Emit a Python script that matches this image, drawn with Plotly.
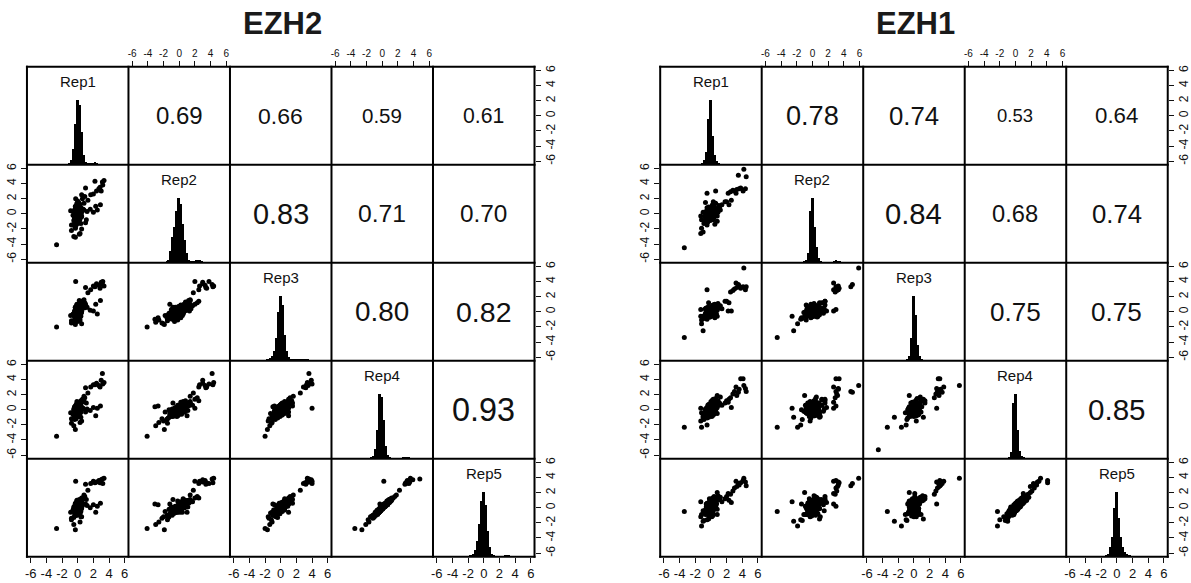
import plotly.graph_objects as go

# ---------------------------------------------------------------- data
rep_names = ["Rep1", "Rep2", "Rep3", "Rep4", "Rep5"]
tick_vals = [-6, -4, -2, 0, 2, 4, 6]
tick_text = ["-6", "-4", "-2", "0", "2", "4", "6"]

hist_bins = [-3.0, -2.75, -2.5, -2.25, -2.0, -1.75, -1.5, -1.25, -1.0, -0.75,
             -0.5, -0.25, 0.0, 0.25, 0.5, 0.75, 1.0, 1.25, 1.5, 1.75, 2.0,
             2.25, 2.5, 2.75, 3.0, 3.25, 3.5, 3.75, 4.0, 4.25, 4.5]

# ---- EZH2 : per-gene log ratios for each replicate
ezh2_rep1 = [0.0, 0.1, -0.1, 0.2, -0.2, 0.0, 0.1, -0.1, 0.3, -0.3,
             0.0, 0.2, -0.2, 0.1, -0.1, 0.0, 0.3, -0.2, 0.1, 0.0,
             -0.1, 0.2, 0.0, -0.3, 0.1, 0.2, -0.1, 0.0, 0.1, -0.2,
             0.2, -0.3, 0.0, 0.4, -0.1, 0.1, -0.4, 0.3, -0.2, 0.0,
             0.5, -0.5, 0.1, -0.1, 0.2, 0.0, -0.3, 0.3, -0.2, 0.1,
             0.4, -0.4, 0.0, 0.2, -0.1, 0.3, -0.2, 0.1, 0.0, -0.3,
             -0.4, 0.0, -0.5, 0.2, -0.3, -0.1, -0.6, 0.1, -0.2, 0.3,
             -0.4, 0.0, -0.2, 0.2, -0.5, 0.1, -0.3, 0.4, -0.1, 0.0,
             -0.4, 0.3, -0.2, 0.1, -0.3, 0.5, 0.0, -0.1, 0.2, -0.3,
             0.4, 0.0, -0.2, 0.3, 0.1, -0.4, 0.6, 0.0, 0.2, -0.1,
             0.4, -0.3, 0.7, 0.1, 0.5, -0.2, 0.3, 0.8, 0.0, 0.4,
             0.6, 0.2, 0.9, -0.8, 0.3, -0.5, 0.5, 1.1, -0.9, -0.8,
             1.0, 1.66, 2.0, 2.4, 2.7, 3.0, 3.15, 3.36, 2.85, 3.2, 2.2,
             1.2, 1.6, 2.0, 2.5, 2.3, 1.0, 2.9, 0.8, 1.3, 0.5,
             -2.7, -0.3, -0.26, -0.3, 0.2]
ezh2_rep2 = [0.1, -0.4, 0.5, -0.2, 0.3, -0.6, 0.0, 0.6, -0.3, 0.2,
             -0.1, 0.4, -0.5, -0.8, 0.7, 0.2, -0.2, 0.0, -0.7, 0.4,
             0.6, -0.3, -1.0, 0.1, 0.3, -0.5, 0.9, -0.1, -0.4, 0.5,
             -0.9, 0.4, -1.2, 0.8, -0.2, 1.0, -0.6, 0.1, -1.5, 0.6,
             -0.3, 0.2, -0.8, 1.2, -0.4, 0.9, -1.1, 0.3, -0.1, 0.7,
             -1.3, 0.5, 0.0, -0.7, 1.4, -0.5, 0.2, -0.9, 0.6, -0.2,
             -1.6, -0.6, -1.4, -0.3, -1.8, -0.9, -0.2, -1.1, 0.2, -0.7,
             -0.5, -1.3, 0.1, -0.4, -0.9, 0.3, -0.6, -0.1, -1.0, 0.5,
             -0.3, 0.0, -0.7, 0.2, 0.7, -0.4, -0.2, 0.4, 0.9, -0.5,
             0.3, 0.0, 0.6, -0.1, 1.1, 0.2, 0.5, 1.3, -0.2, 0.8,
             0.3, 1.0, 0.6, 1.5, 0.2, 0.9, 1.2, 0.5, 1.7, 0.8,
             2.0, 1.4, 2.3, -2.2, -2.6, -3.0, -2.0, -0.8, 0.4, -1.5,
             3.4, 2.5, 2.6, 3.0, 3.3, 3.0, 4.2, 4.4, 3.5, 3.8, 4.3,
             0.3, 0.6, 0.2, 0.5, 1.0, -1.2, 1.2, 1.4, 1.8, 2.5,
             -4.1, -1.9, 2.0, -3.1, -2.7]
ezh2_rep3 = [0.0, -0.3, 0.4, -0.1, 0.2, -0.5, 0.1, 0.3, -0.4, 0.0,
             0.2, 0.5, -0.2, -0.6, 0.3, -0.1, 0.1, -0.3, -0.4, 0.6,
             0.2, 0.0, -0.7, -0.2, 0.4, -0.3, 0.5, 0.1, -0.1, 0.2,
             -0.6, 0.5, -0.9, 0.3, 0.1, 0.7, -0.2, -0.4, -1.0, 0.9,
             0.0, -0.3, -0.5, 0.6, -0.7, 0.4, -0.8, 0.8, 0.2, 0.1,
             -0.6, 0.0, 0.3, -0.9, 1.0, -0.2, 0.5, -0.4, 0.2, -1.1,
             -0.7, -1.3, -0.4, -0.9, -0.5, -1.0, -0.3, -0.1, -0.8, -0.6,
             0.1, -0.2, -0.7, 0.2, -0.4, -0.5, 0.0, -0.3, 0.3, -0.2,
             -0.6, 0.4, 0.1, -0.4, 0.3, 0.0, 0.5, -0.1, 0.2, 0.6,
             -0.2, 0.3, 0.0, 0.7, 0.4, -0.1, 0.8, 0.1, 0.5, 0.9,
             0.2, 0.6, 1.0, 0.4, 0.9, 0.7, 1.1, 0.5, 0.8, 1.3,
             1.0, 1.5, 1.2, -1.5, -1.1, -1.4, -1.6, 0.6, -0.5, -1.2,
             3.2, 2.9, 3.4, 3.7, 3.5, 3.9, 3.6, 3.4, 3.1, 4.0, 3.3,
             0.6, 0.2, 0.1, -0.3, 1.0, 1.0, 1.5, 1.6, 2.5, 1.4,
             -2.0, -1.7, 4.0, -1.0, -0.8]
ezh2_rep4 = [0.1, -0.2, 0.3, -0.3, 0.0, -0.4, 0.2, 0.4, -0.2, 0.1,
             -0.1, 0.3, -0.5, -0.4, 0.5, 0.0, 0.2, -0.1, -0.6, 0.3,
             0.4, -0.2, -0.8, 0.0, 0.1, -0.3, 0.6, 0.2, -0.2, 0.4,
             -0.8, 0.2, -0.6, 0.6, -0.3, 0.9, -0.5, 0.0, -1.2, 0.4,
             0.3, -0.1, -0.9, 0.8, -0.2, 0.5, -0.4, 0.1, -0.7, 0.7,
             -1.0, 0.3, 0.5, -0.5, 1.1, 0.0, -0.3, -0.6, 0.4, -0.8,
             -1.3, -0.5, -1.1, -0.9, -0.3, -0.8, -0.6, -0.9, -0.1, -0.5,
             -0.7, 0.0, -0.4, -0.2, 0.1, -0.6, 0.2, -0.3, -0.1, 0.3,
             -0.4, 0.0, -0.2, 0.4, -0.3, 0.1, -0.5, 0.6, 0.0, 0.3,
             0.5, -0.2, 0.7, 0.2, -0.1, 0.4, 0.1, 0.8, 0.6, 0.3,
             0.9, 0.5, 0.2, 0.7, 1.0, 0.4, 0.8, 1.1, 0.6, 1.2,
             1.4, 0.9, 1.6, -1.2, -1.7, -2.1, -1.5, 0.9, -0.4, -1.8,
             2.9, 3.0, 3.3, 3.5, 3.2, 3.9, 4.8, 3.6, 3.0, 3.4, 3.3,
             0.1, -0.1, 0.3, 0.2, -0.8, -0.3, 0.5, 1.8, 2.2, 1.2,
             -3.5, -2.6, 0.2, 0.4, 0.5]
ezh2_rep5 = [0.0, -0.3, 0.4, -0.2, 0.1, -0.5, 0.2, 0.3, -0.3, 0.2,
             0.0, 0.2, -0.4, -0.5, 0.6, -0.1, 0.3, -0.1, -0.5, 0.4,
             0.3, -0.1, -0.9, 0.1, 0.0, -0.2, 0.7, 0.1, -0.3, 0.3,
             -0.6, 0.4, -0.9, 0.5, -0.1, 0.7, -0.7, 0.2, -1.0, 0.6,
             0.1, 0.1, -0.7, 1.0, -0.4, 0.3, -0.6, 0.3, -0.5, 0.5,
             -1.2, 0.1, 0.6, -0.3, 0.9, 0.2, -0.1, -0.8, 0.6, -0.6,
             -1.1, -0.7, -1.3, -0.6, -0.5, -1.0, -0.3, -0.8, -0.3, -0.7,
             -0.4, -0.2, -0.6, 0.0, -0.1, -0.4, 0.1, -0.5, 0.1, 0.2,
             -0.2, -0.1, -0.4, 0.3, 0.0, -0.1, -0.3, 0.5, 0.2, 0.1,
             0.6, 0.0, 0.4, 0.4, 0.1, 0.2, 0.3, 0.7, 0.9, 0.2,
             0.7, 0.6, 0.5, 0.9, 0.8, 0.3, 1.0, 1.2, 0.8, 1.0,
             1.3, 1.1, 1.5, -1.4, -1.9, -2.2, -1.2, 1.1, -0.6, -1.6,
             3.1, 3.2, 3.5, 3.4, 3.6, 3.7, 3.8, 3.9, 3.3, 3.2, 3.3,
             0.3, 0.0, 0.4, 0.2, -0.6, 0.5, 0.6, 1.7, 2.3, 1.3,
             -2.75, -2.9, 3.5, 0.5, 0.4]

ezh2_hist1 = [0, 0, 0, 0, 0, 0.005, 0.01, 0.01, 0.02, 0.08, 0.25, 0.62, 1.0, 0.92, 0.5, 0.15, 0.05,
              0.02, 0.02, 0.025, 0.03, 0.04, 0.03, 0.015, 0.01, 0.005, 0.005, 0, 0, 0, 0]
ezh2_hist2 = [0.005, 0.005, 0.005, 0.005, 0.01, 0.01, 0.02, 0.05, 0.18, 0.4, 0.55, 0.8, 1.0, 0.9, 0.6,
              0.35, 0.15, 0.05, 0.02, 0.02, 0.03, 0.05, 0.05, 0.04, 0.02, 0.01, 0.005, 0, 0, 0, 0]
ezh2_hist3 = [0, 0, 0, 0.005, 0.01, 0.02, 0.03, 0.05, 0.08, 0.15, 0.35, 0.75, 1.0, 0.85, 0.4, 0.15,
              0.06, 0.03, 0.02, 0.02, 0.03, 0.03, 0.03, 0.03, 0.03, 0.02, 0.02, 0.01, 0.01, 0.01, 0.01]
ezh2_hist4 = [0, 0, 0, 0, 0.005, 0.005, 0.01, 0.02, 0.05, 0.15, 0.45, 1.0, 0.95, 0.6, 0.2, 0.06,
              0.03, 0.01, 0.01, 0.01, 0.01, 0.01, 0.01, 0.02, 0.025, 0.025, 0.02, 0.01, 0.005, 0, 0]
ezh2_hist5 = [0, 0, 0.005, 0.005, 0.01, 0.02, 0.03, 0.05, 0.1, 0.25, 0.5, 0.85, 1.0, 0.8, 0.4, 0.15,
              0.05, 0.02, 0.01, 0.01, 0.005, 0.005, 0.01, 0.02, 0.02, 0.02, 0.015, 0.01, 0.005, 0, 0]

ezh2_cor = [[None, 0.69, 0.66, 0.59, 0.61],
            [None, None, 0.83, 0.71, 0.70],
            [None, None, None, 0.80, 0.82],
            [None, None, None, None, 0.93],
            [None, None, None, None, None]]

# ---- EZH1
ezh1_rep1 = [0.0, -0.1, 0.1, 0.2, -0.2, 0.0, 0.1, -0.3, 0.3, -0.1,
             0.0, 0.2, -0.2, 0.1, -0.1, 0.0, 0.2, -0.3, 0.1, 0.0,
             -0.1, 0.3, 0.0, -0.2, 0.1, 0.2, -0.1, 0.0, -0.4, 0.4,
             -0.6, 0.3, -0.2, 0.5, -0.4, 0.1, 0.6, -0.3, 0.2, -0.5,
             0.0, 0.4, -0.1, 0.7, -0.7, 0.3, -0.2, 0.1, 0.5, -0.4,
             0.2, -0.6, 0.0, 0.4, -0.3, 0.8, -0.1, 0.2, -0.5, 0.1,
             -0.8, -0.7, -0.6, -0.6, -0.5, -0.5, -0.4, -0.4, -0.4, -0.3,
             -0.3, -0.3, -0.2, -0.2, -0.2, -0.2, -0.1, -0.1, -0.1, -0.1,
             0.0, 0.0, 0.0, 0.0, 0.0, 0.0, 0.1, 0.1, 0.1, 0.1,
             0.1, 0.2, 0.2, 0.2, 0.2, 0.3, 0.3, 0.3, 0.4, 0.4,
             0.4, 0.5, 0.5, 0.6, 0.6, 0.7, 0.8, 0.9, 1.0, 1.2,
             -0.9, -1.0, -1.2, -1.3, -0.7, 0.5, -0.3, 0.8, -0.5, 0.3,
             2.5, 2.8, 3.0, 3.3, 3.6, 3.8, 4.1, 4.4, 3.5, 4.2, 4.5, 3.2,
             1.4, 1.8, 2.0, 2.3, 2.6, 2.2, 1.1,
             -3.4, -1.2, -1.0, -0.5, 0.6, None, -1.3]
ezh1_rep2 = [0.1, -0.2, 0.3, -0.3, 0.0, 0.4, -0.1, 0.2, -0.4, 0.0,
             0.3, -0.2, 0.1, -0.5, 0.5, -0.1, 0.2, 0.0, -0.3, 0.4,
             -0.2, 0.1, 0.6, -0.4, 0.0, -0.1, 0.3, -0.6, 0.2, 0.0,
             0.3, -0.5, 0.6, -0.1, 0.2, -0.7, 0.4, 0.0, -0.3, 0.8,
             -0.6, 0.1, 0.5, -0.2, 0.0, -0.4, 0.7, -0.8, 0.2, 0.4,
             -0.1, 0.3, -0.5, 0.9, 0.1, -0.3, 0.6, -0.6, 0.0, 0.5,
             -0.4, -0.9, 0.1, -0.5, -0.2, 0.4, -0.7, 0.0, -1.1, 0.3,
             -0.3, 0.6, -0.6, 0.2, -0.1, 0.8, -0.4, 0.1, -0.9, 0.5,
             -0.2, 0.3, -0.6, 0.0, 0.7, -0.3, 0.4, -0.1, 1.0, -0.7,
             0.2, -0.4, 0.6, 0.0, 1.2, -0.2, 0.5, -0.8, 0.3, -0.5,
             0.9, 0.1, -0.2, 0.4, 1.4, -0.1, 0.7, 0.2, 1.1, 0.5,
             -1.3, 0.2, -0.8, -0.3, 1.5, -1.4, 0.9, -1.0, -1.5, 1.6,
             2.9, 3.1, 3.0, 3.2, 3.3, 3.4, 3.0, 3.3, 5.1, 5.9, 4.9, 2.7,
             1.2, 1.6, 1.6, 1.2, 1.8, 2.7, 0.8,
             -4.5, -1.9, -2.4, 2.7, 3.0, None, -2.6]
ezh1_rep3 = [-0.1, 0.2, 0.0, -0.2, 0.3, -0.3, 0.1, 0.4, 0.0, -0.4,
             0.2, -0.1, 0.3, 0.0, -0.2, 0.5, -0.3, 0.1, 0.2, -0.1,
             0.0, -0.5, 0.3, 0.1, -0.3, 0.4, -0.2, 0.0, 0.1, -0.1,
             0.2, 0.4, -0.5, 0.0, 0.6, -0.2, -0.4, 0.3, 0.5, -0.1,
             -0.6, 0.2, 0.0, -0.3, 0.4, 0.7, -0.1, -0.5, 0.3, 0.1,
             -0.3, 0.5, 0.2, -0.4, 0.0, 0.6, -0.7, 0.1, 0.3, -0.2,
             -0.5, -0.2, -0.6, 0.1, -0.8, -0.3, 0.2, -0.4, -0.1, 0.3,
             -0.5, 0.0, 0.4, -0.2, -0.7, 0.1, 0.5, -0.3, 0.0, 0.2,
             -0.1, 0.6, -0.4, 0.3, -0.6, 0.1, -0.2, 0.7, 0.0, 0.4,
             -0.5, 0.2, 0.8, -0.3, 0.3, 0.5, -0.1, 0.9, 0.1, -0.4,
             0.6, 0.0, 1.0, 0.4, -0.2, 0.7, 0.2, 1.1, 0.5, 0.8,
             -0.9, -0.6, -1.1, 0.3, 0.4, -0.8, 1.2, -0.6, -1.0, 0.9,
             2.6, 2.8, 3.0, 3.2, 3.4, 3.1, 3.3, 2.9, 3.6, 5.8, 3.3, 3.8,
             0.4, 1.4, 1.4, 1.2, 0.1, 0.1, 0.6,
             -3.4, -1.6, -2.5, 2.9, 0.3, -4.55, -0.6]
ezh1_rep4 = [0.2, -0.3, 0.0, 0.3, -0.1, 0.1, -0.4, 0.4, -0.2, 0.0,
             0.5, -0.2, 0.2, -0.5, 0.1, -0.1, 0.3, 0.0, -0.3, 0.6,
             -0.6, 0.2, 0.0, 0.4, -0.2, 0.1, -0.4, 0.3, 0.0, -0.1,
             -0.5, 0.3, 0.1, 0.6, -0.3, -0.1, 0.4, -0.6, 0.8, 0.0,
             -0.2, 0.5, -0.7, 0.2, 0.0, 0.9, -0.4, 0.3, -0.1, 0.6,
             -0.8, 0.1, 0.4, -0.3, 0.7, -0.5, 0.2, 0.0, -0.6, 1.0,
             -0.9, -0.3, -0.6, 0.2, -1.1, 0.0, -0.5, 0.4, -0.2, -0.8,
             0.1, 0.5, -0.4, 0.7, -0.1, 0.3, -0.7, 0.0, 0.6, -0.3,
             0.2, -0.6, 0.9, -0.2, 0.4, 1.1, -0.4, 0.1, -0.9, 0.6,
             0.3, -0.1, 0.8, -0.5, 1.3, 0.0, 0.5, -0.3, 1.0, 0.2,
             -0.6, 0.7, 0.4, 1.5, -0.2, 0.9, 0.3, 1.2, 0.6, 1.7,
             -1.3, -0.8, -0.4, -1.5, 0.1, 0.0, -1.0, 1.9, -2.0, 1.4,
             1.6, 2.1, 2.4, 1.9, 2.7, 4.1, 4.1, 2.8, 2.3, 3.2, 2.4, 3.0,
             0.6, 0.9, 1.2, 1.4, 0.3, 1.0, 0.9,
             -2.3, -2.3, -1.0, 0.2, 0.5, -5.3, 0.2]
ezh1_rep5 = [0.4, -0.5, 0.1, 0.2, -0.3, 0.3, -0.6, 0.5, -0.1, 0.2,
             0.7, -0.4, 0.0, -0.6, 0.3, -0.3, 0.5, -0.2, -0.1, 0.8,
             -0.8, 0.0, 0.2, 0.6, -0.4, 0.3, -0.5, 0.2, -0.2, 0.1,
             -0.3, 0.7, -0.2, 0.9, -0.6, 0.2, 0.1, -0.9, 1.0, 0.4,
             -0.5, 0.3, -0.4, 0.6, -0.3, 1.2, -0.8, 0.0, 0.3, 0.4,
             -1.1, 0.5, 0.1, -0.1, 0.5, -0.9, 0.6, -0.3, -0.4, 0.8,
             -0.6, -0.9, 0.1, -0.3, -0.8, 0.6, -0.2, 0.0, -0.9, -0.4,
             0.5, 0.1, -0.9, 1.2, -0.6, 0.8, -0.3, 0.5, 0.2, -0.8,
             -0.2, -0.1, 0.6, 0.3, 0.9, 0.7, -1.0, 0.6, -1.2, 0.1,
             0.9, -0.6, 1.3, 0.0, 1.0, -0.4, 0.2, -0.9, 1.5, 0.6,
             -0.1, 0.3, 0.9, 1.2, 0.4, 0.5, -0.2, 1.6, 1.1, 1.4,
             -1.7, -0.4, -0.9, -1.2, -0.4, 0.5, -1.5, 2.0, -1.6, 1.0,
             1.8, 2.2, 2.6, 2.8, 3.0, 3.3, 3.6, 3.4, 3.2, 3.9, 2.9, 3.5,
             0.8, 1.2, 1.5, 1.0, 0.7, 1.9, 1.1,
             -0.5, -2.4, -1.8, 0.5, 0.2, None, 0.8]

ezh1_hist1 = [0, 0, 0, 0, 0.005, 0.005, 0.01, 0.015, 0.03, 0.08, 0.2, 0.7, 1.0, 0.45, 0.15, 0.06,
              0.03, 0.01, 0.01, 0.005, 0.005, 0.005, 0.005, 0.01, 0.01, 0.01, 0.01, 0.005, 0.005, 0, 0]
ezh1_hist2 = [0, 0, 0, 0, 0.005, 0.005, 0.005, 0.01, 0.02, 0.05, 0.15, 0.8, 1.0, 0.55, 0.25, 0.08,
              0.03, 0.01, 0.005, 0.005, 0.005, 0.005, 0.01, 0.03, 0.04, 0.035, 0.02, 0.005, 0, 0, 0]
ezh1_hist3 = [0.005, 0.005, 0.005, 0.005, 0.005, 0.005, 0.005, 0.005, 0.01, 0.03, 0.08, 0.35, 1.0, 0.7,
              0.25, 0.07, 0.03, 0.01, 0.01, 0.01, 0.01, 0.01, 0.01, 0.005, 0.01, 0.005, 0.005, 0.005,
              0.005, 0.005, 0.005]
ezh1_hist4 = [0, 0, 0, 0, 0, 0.005, 0.005, 0.005, 0.01, 0.03, 0.1, 0.85, 1.0, 0.45, 0.12, 0.05, 0.02,
              0.01, 0.005, 0.005, 0.005, 0.005, 0.005, 0.005, 0.005, 0, 0, 0, 0, 0, 0]
ezh1_hist5 = [0, 0, 0, 0, 0.005, 0.005, 0.01, 0.02, 0.05, 0.15, 0.3, 0.75, 1.0, 0.6, 0.3, 0.15, 0.08,
              0.05, 0.03, 0.02, 0.01, 0.01, 0.01, 0.005, 0.005, 0.005, 0, 0, 0, 0, 0]

ezh1_cor = [[None, 0.78, 0.74, 0.53, 0.64],
            [None, None, 0.84, 0.68, 0.74],
            [None, None, None, 0.75, 0.75],
            [None, None, None, None, 0.85],
            [None, None, None, None, None]]

datasets = [
    dict(title="EZH2", left=25.0,
         values=[ezh2_rep1, ezh2_rep2, ezh2_rep3, ezh2_rep4, ezh2_rep5],
         hist=[ezh2_hist1, ezh2_hist2, ezh2_hist3, ezh2_hist4, ezh2_hist5],
         cor=ezh2_cor),
    dict(title="EZH1", left=659.3,
         values=[ezh1_rep1, ezh1_rep2, ezh1_rep3, ezh1_rep4, ezh1_rep5],
         hist=[ezh1_hist1, ezh1_hist2, ezh1_hist3, ezh1_hist4, ezh1_hist5],
         cor=ezh1_cor),
]

# ---------------------------------------------------------------- layout
W, H = 1191, 583
CW, CH = 101.68, 98.33
TOP = 65.0
LIMS = [-6.48, 6.48]
HIST_MAX = 1.5
FONT = "Liberation Sans, Arial, Helvetica, sans-serif"
CORR_FONT = 34.8
INK = "#111111"


def fx(p):
    return p / W


def fy(p):
    return 1 - p / H


def tick_style(size):
    return dict(ticks="outside", ticklen=5, tickwidth=1, tickcolor=INK,
                tickvals=tick_vals, ticktext=tick_text, showticklabels=True,
                tickfont=dict(size=size, family=FONT, color=INK))


def empty_trace(xname, yname):
    # keeps an otherwise empty panel (and its axes) alive
    return go.Scatter(x=[None], y=[None], mode="markers", xaxis=xname, yaxis=yname,
                      showlegend=False, hoverinfo="skip")


fig = go.Figure()
lay = {}
annotations = []
shapes = []
n = 0
extra = 50

for d in datasets:
    x0 = d["left"]
    vals = d["values"]
    for v in vals:
        assert len(v) == len(vals[0])
    for i in range(5):
        for j in range(5):
            n += 1
            s = "" if n == 1 else str(n)
            xname, yname = "x" + s, "y" + s
            xa = dict(domain=[fx(x0 + j * CW), fx(x0 + (j + 1) * CW)], range=LIMS, anchor=yname,
                      showgrid=False, zeroline=False, showline=False, ticks="",
                      showticklabels=False, fixedrange=True)
            ya = dict(domain=[fy(TOP + (i + 1) * CH), fy(TOP + i * CH)], range=LIMS, anchor=xname,
                      showgrid=False, zeroline=False, showline=False, ticks="",
                      showticklabels=False, fixedrange=True)
            if i == 0 and j % 2 == 1:
                xa.update(side="top", **tick_style(10))
            if i == 4 and j % 2 == 0:
                xa.update(side="bottom", **tick_style(13))
            if j == 0 and i % 2 == 1:
                ya.update(side="left", tickangle=-90, **tick_style(12))
            if j == 4 and i % 2 == 0 and i != 4:
                ya.update(side="right", tickangle=-90, **tick_style(12))

            cx = x0 + (j + 0.5) * CW
            cy = TOP + (i + 0.5) * CH
            if i == j:
                ya["range"] = [0, HIST_MAX]
                fig.add_trace(go.Bar(x=hist_bins, y=d["hist"][i], width=0.25,
                                     marker=dict(color="black", line=dict(width=0)),
                                     xaxis=xname, yaxis=yname, showlegend=False))
                annotations.append(dict(text=rep_names[i], x=fx(cx), y=fy(TOP + i * CH + 15),
                                        xref="paper", yref="paper", showarrow=False,
                                        xanchor="center", yanchor="middle",
                                        font=dict(size=15, family=FONT, color=INK)))
                if i == 4:
                    extra += 1
                    ename = "y" + str(extra)
                    ea = dict(range=LIMS, overlaying=yname, anchor=xname, side="right",
                              tickangle=-90, showgrid=False, zeroline=False, showline=False,
                              fixedrange=True, **tick_style(12))
                    lay["yaxis" + str(extra)] = ea
                    fig.add_trace(empty_trace(xname, ename))
            elif i > j:
                fig.add_trace(go.Scatter(x=vals[j], y=vals[i], mode="markers",
                                         marker=dict(color="black", size=5, line=dict(width=0)),
                                         xaxis=xname, yaxis=yname, showlegend=False))
            else:
                fig.add_trace(empty_trace(xname, yname))
                r = d["cor"][i][j]
                annotations.append(dict(text=f"{r:.2f}", x=fx(cx), y=fy(cy), xref="paper",
                                        yref="paper", showarrow=False, xanchor="center",
                                        yanchor="middle",
                                        font=dict(size=CORR_FONT * r, family=FONT, color=INK)))
            lay["xaxis" + s] = xa
            lay["yaxis" + s] = ya

    # panel grid lines
    for k in range(6):
        xx = x0 + k * CW
        shapes.append(dict(type="line", xref="paper", yref="paper", x0=fx(xx), x1=fx(xx),
                           y0=fy(TOP - 1), y1=fy(TOP + 5 * CH + 1),
                           line=dict(color="black", width=2), layer="above"))
        yy = TOP + k * CH
        shapes.append(dict(type="line", xref="paper", yref="paper", x0=fx(x0 - 1),
                           x1=fx(x0 + 5 * CW + 1), y0=fy(yy), y1=fy(yy),
                           line=dict(color="black", width=2), layer="above"))
    annotations.append(dict(text="<b>" + d["title"] + "</b>", x=fx(x0 + 2.5 * CW + 2), y=fy(21.7),
                            xref="paper", yref="paper", showarrow=False, xanchor="center",
                            yanchor="middle", font=dict(size=31, family=FONT, color="#1a1a1a")))

fig.update_layout(width=W, height=H, autosize=False, margin=dict(l=0, r=0, t=0, b=0),
                  paper_bgcolor="white", plot_bgcolor="white", showlegend=False,
                  annotations=annotations, shapes=shapes, bargap=0, **lay)
fig.write_html("out.html", config={"displayModeBar": False},
               post_script="document.body.style.margin='0px';")
